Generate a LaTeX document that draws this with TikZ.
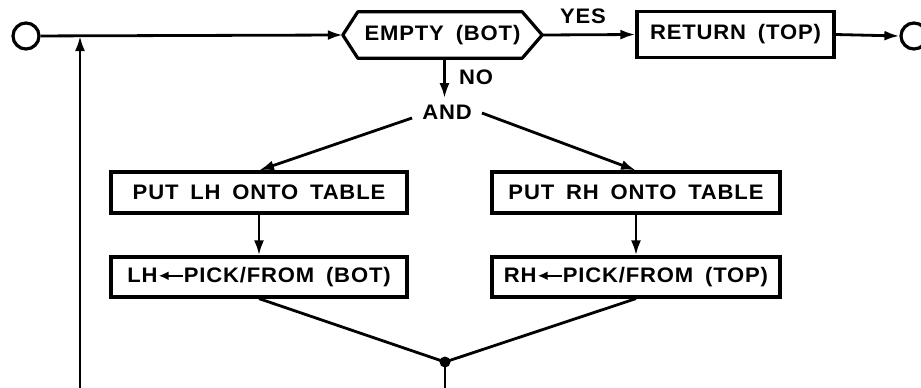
\documentclass[tikz,border=0pt]{standalone}
\usepackage{fontspec}
\newfontfamily\lettering[FakeStretch=1.05,LetterSpace=4,WordSpace=1.7,UprightFont={* Bold}]{Liberation Sans}
\usetikzlibrary{arrows.meta,calc}
\tikzset{
  ln/.style={line width=2.8pt},
  arr/.style={ln,-{Latex[length=15pt,width=10pt]}},
  boxnode/.style={draw,line width=3.2pt,inner sep=0pt,font=\lettering\fontsize{21}{23}\selectfont},
  lbl/.style={inner sep=0pt,font=\lettering\fontsize{21}{23}\selectfont},
  term/.style={circle,draw,line width=3.2pt,minimum size=26pt,inner sep=0pt},
}
\newcommand{\pickarrow}{\tikz[baseline=-0.6ex]\draw[line width=2.2pt,{Latex[length=10pt,width=9pt]}-] (0pt,0pt) -- (24pt,0pt);}
\begin{document}
\begin{tikzpicture}[x=1pt,y=-1pt]
\useasboundingbox (0,0) rectangle (921,388);
\clip (0,0) rectangle (921,388);
% terminals
\node[term] (start) at (26,36) {};
\node[term] (stop) at (914,36) {};
% decision hexagon
\node[lbl,minimum width=199pt,minimum height=46pt] (hex) at (442.5,35) {EMPTY (BOT)};
\draw[line width=3.2pt,line join=round] (hex.west) -- ([xshift=15pt]hex.north west) -- ([xshift=-20pt]hex.north east) -- (hex.east) -- ([xshift=-20pt]hex.south east) -- ([xshift=15pt]hex.south west) -- cycle;
% return box
\node[boxnode,minimum width=197pt,minimum height=46pt] (ret) at (735.5,34.5) {RETURN (TOP)};
% labels
\node[lbl] (yes) at (583,16) {YES};
\node[lbl] (no) at (476,77) {NO};
\node[lbl] (and) at (447,112) {AND};
% boxes
\node[boxnode,minimum width=296pt,minimum height=41pt] (l1) at (259,192.5) {PUT LH ONTO TABLE};
\node[boxnode,minimum width=296pt,minimum height=40pt] (l2) at (259,277) {LH\pickarrow PICK/FROM (BOT)};
\node[boxnode,minimum width=288pt,minimum height=41pt] (r1) at (636,192.5) {PUT RH ONTO TABLE};
\node[boxnode,minimum width=288pt,minimum height=40pt] (r2) at (636,277) {RH\pickarrow PICK/FROM (TOP)};
% junction dot
\node[circle,fill,minimum size=11pt,inner sep=0pt] (dot) at (445,362) {};
\coordinate (j) at (80,36);
\coordinate (bot) at (80,391);
% connectors
\draw[arr] (start) -- (hex.west);
\draw[arr] (hex.east) -- (ret.west);
\draw[arr] (ret.east) -- (stop.west);
\draw[arr] ([xshift=2pt]hex.south) -- ++(0,40);
\draw[arr] ($(and.west)+(-10,6)$) -- (l1.north);
\draw[arr] ($(and.east)+(10,1)$) -- (r1.north);
\draw[arr] (l1.south) -- (l2.north);
\draw[arr] (r1.south) -- (r2.north);
\draw[ln] (l2.south) -- (dot.center);
\draw[ln] (r2.south) -- (dot.center);
\draw[arr] (dot.center) |- (bot) -- (j);
\end{tikzpicture}
\end{document}
